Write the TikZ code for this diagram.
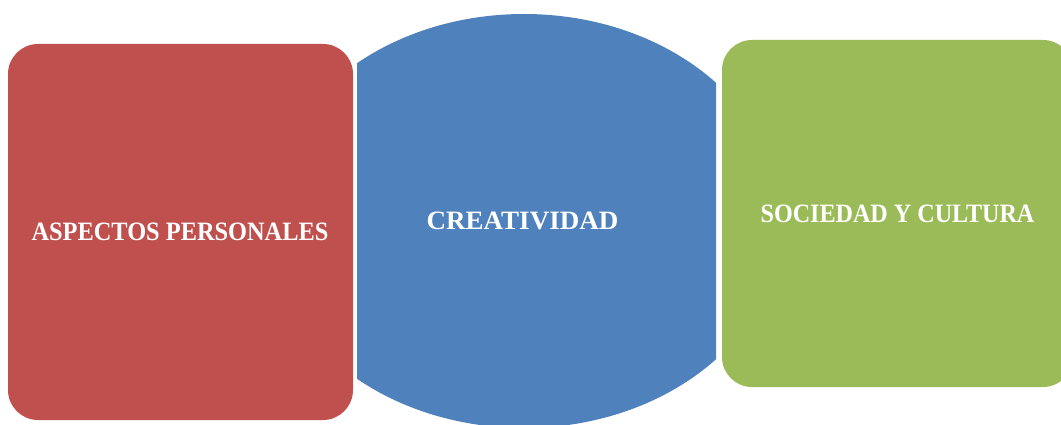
\documentclass[tikz,border=0pt]{standalone}
\usepackage{fontspec}
\setmainfont{Liberation Serif}
\definecolor{ored}{HTML}{C0504D}
\definecolor{oblue}{HTML}{4F81BD}
\definecolor{ogreen}{HTML}{9BBB59}
\begin{document}
\begin{tikzpicture}[x=1pt,y=-1pt,
  box/.style={rounded corners=30pt, inner sep=0pt},
  lbl/.style={text=white, font=\fontsize{26.5}{30}\selectfont\bfseries, inner sep=0pt}]
\useasboundingbox (0,0) rectangle (1061,425);
\clip (0,0) rectangle (1061,425);
\node[box, fill=ored, minimum width=345pt, minimum height=376pt] (red) at (180.5,232) {};
\node[box, fill=ogreen, minimum width=351pt, minimum height=347pt] (green) at (897.5,213.5) {};
\begin{scope}
  \clip (357,0) rectangle (716,425);
  \fill[oblue] (524,221) ellipse [x radius=258, y radius=207];
\end{scope}
\coordinate (bluec) at (524,221);
\node[lbl] (t1) at (180,232) {\scalebox{0.92}[1]{ASPECTOS PERSONALES}};
\node[lbl] (t2) at (522.5,220.5) {\scalebox{1.02}[1]{CREATIVIDAD}};
\node[lbl] (t3) at (897.5,214) {\scalebox{0.91}[1]{SOCIEDAD Y CULTURA}};
\end{tikzpicture}
\end{document}
